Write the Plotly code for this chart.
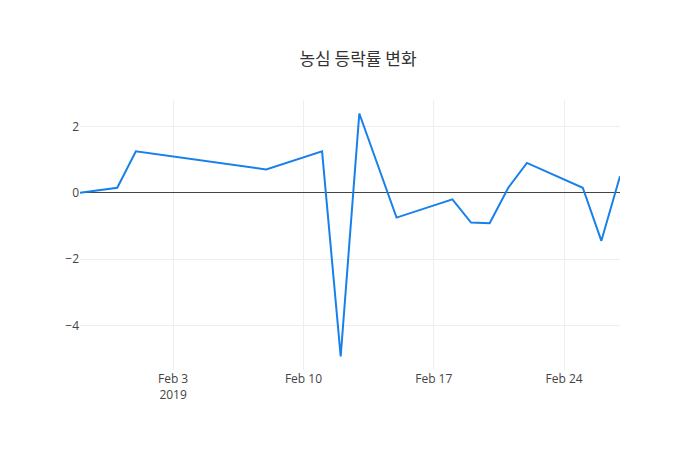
import plotly.graph_objects as go

dates = ["2019-01-29","2019-01-31","2019-02-01","2019-02-08","2019-02-11","2019-02-12","2019-02-13","2019-02-14","2019-02-15","2019-02-18","2019-02-19","2019-02-20","2019-02-21","2019-02-22","2019-02-25","2019-02-26","2019-02-27"]
values = [0.0,0.15,1.25,0.7,1.25,-4.94,2.39,0.8,-0.75,-0.2,-0.9,-0.92,0.15,0.9,0.15,-1.45,0.5]

fig = go.Figure(go.Scatter(x=dates, y=values, mode="lines", line=dict(color="#1780ea", width=2)))
fig.update_layout(
    width=700, height=450, template="plotly_white",
    title=dict(text="농심 등락률 변화", x=0.5, y=0.9, font=dict(family="Noto Sans CJK KR", size=17, color="#333")),
    margin=dict(l=72, r=88, t=92, b=88),
    font=dict(family="Open Sans", color="#444"),
    showlegend=False,
)
fig.update_xaxes(showgrid=True, gridcolor="#eee", dtick=7*86400000, tick0="2019-02-03",
                 tickformatstops=[dict(dtickrange=[None,None], value="%b %-d\n%Y")])
fig.update_yaxes(showgrid=True, gridcolor="#eee", zeroline=True, zerolinecolor="#444", zerolinewidth=1, dtick=2)
fig.write_html("out.html")
